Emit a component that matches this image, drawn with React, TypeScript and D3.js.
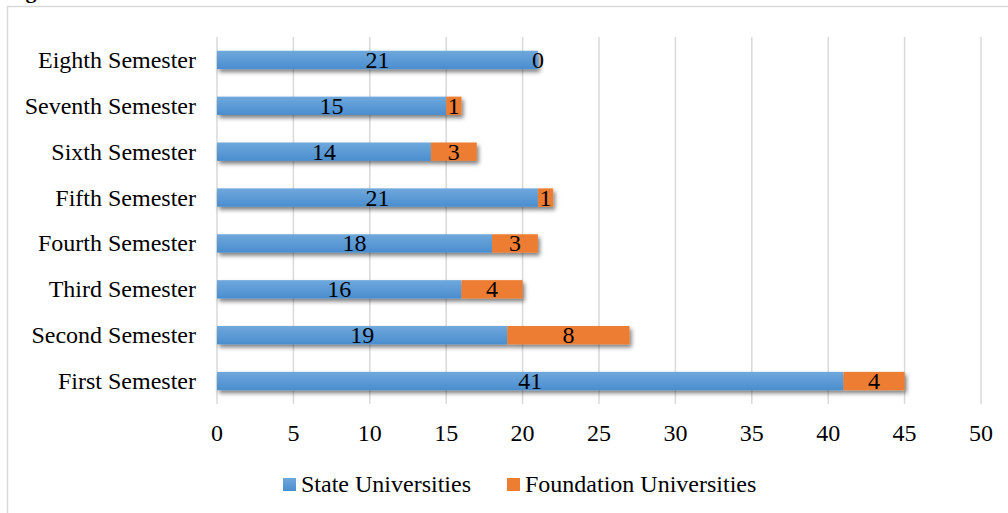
import * as React from 'react';
import { useRef, useEffect } from 'react';
import * as d3 from 'd3';

const categories = ['Eighth Semester', 'Seventh Semester', 'Sixth Semester', 'Fifth Semester', 'Fourth Semester', 'Third Semester', 'Second Semester', 'First Semester'];
const stateValues = [21, 15, 14, 21, 18, 16, 19, 41];
const foundationValues = [0, 1, 3, 1, 3, 4, 8, 4];
const xTicks = [0, 5, 10, 15, 20, 25, 30, 35, 40, 45, 50];
const seriesNames = ['State Universities', 'Foundation Universities'];

export default function App() {
  const svgRef = useRef<SVGSVGElement>(null);
  const width = 1008;
  const height = 513;
  const margin = { top: 37, right: 27, bottom: 109, left: 217 };

  useEffect(() => {
    if (!svgRef.current) return;
    const svg = d3.select(svgRef.current);
    svg.selectAll('*').remove();
    const font = '"Liberation Serif", "Times New Roman", serif';
    const fs = 24;

    const defs = svg.append('defs');
    const gBlue = defs.append('linearGradient').attr('id', 'gBlue').attr('x1', 0).attr('y1', 0).attr('x2', 0).attr('y2', 1);
    gBlue.append('stop').attr('offset', '0%').attr('stop-color', '#6fa8dc');
    gBlue.append('stop').attr('offset', '100%').attr('stop-color', '#4a8dcf');
    const shadow = defs.append('filter').attr('id', 'shadow').attr('x', '-10%').attr('y', '-50%').attr('width', '130%').attr('height', '220%');
    shadow.append('feDropShadow')
      .attr('dx', 2).attr('dy', 3).attr('stdDeviation', 2)
      .attr('flood-color', '#000').attr('flood-opacity', 0.5);

    // chart frame
    svg.append('rect')
      .attr('x', 7.5).attr('y', 6.5)
      .attr('width', width + 10).attr('height', height + 10)
      .attr('fill', '#fff').attr('stroke', '#d9d9d9').attr('stroke-width', 1.5);

    // caption cut off at top
    svg.append('text')
      .attr('x', 6).attr('y', -2)
      .attr('font-family', font).attr('font-size', 22).attr('font-weight', 'bold')
      .text('Figure');

    const x = d3.scaleLinear().domain([0, 50]).range([margin.left, width - margin.right]);
    const y = d3.scaleBand().domain(categories).range([margin.top, height - margin.bottom]).paddingInner(0.6).paddingOuter(0.3);

    // gridlines
    svg.append('g')
      .selectAll('line')
      .data(xTicks)
      .join('line')
      .attr('x1', (d) => x(d)).attr('x2', (d) => x(d))
      .attr('y1', margin.top).attr('y2', height - margin.bottom)
      .attr('stroke', '#d9d9d9').attr('stroke-width', 1.5);

    // x tick labels
    svg.append('g')
      .selectAll('text')
      .data(xTicks)
      .join('text')
      .attr('x', (d) => x(d))
      .attr('y', 441)
      .attr('text-anchor', 'middle')
      .attr('font-family', font).attr('font-size', fs)
      .text((d) => d);

    // category labels
    svg.append('g')
      .selectAll('text')
      .data(categories)
      .join('text')
      .attr('x', 196)
      .attr('y', (d) => (y(d) as number) + y.bandwidth() / 2 + 8)
      .attr('text-anchor', 'end')
      .attr('font-family', font).attr('font-size', fs)
      .text((d) => d);

    const rows = categories.map((c, i) => ({ c, s: stateValues[i], f: foundationValues[i] }));

    // bars with shadow
    const bars = svg.append('g').attr('filter', 'url(#shadow)');
    bars.selectAll('rect.state')
      .data(rows)
      .join('rect')
      .attr('class', 'state')
      .attr('x', x(0))
      .attr('y', (d) => y(d.c) as number)
      .attr('width', (d) => x(d.s) - x(0))
      .attr('height', y.bandwidth())
      .attr('fill', 'url(#gBlue)');
    bars.selectAll('rect.found')
      .data(rows)
      .join('rect')
      .attr('class', 'found')
      .attr('x', (d) => x(d.s))
      .attr('y', (d) => y(d.c) as number)
      .attr('width', (d) => x(d.s + d.f) - x(d.s))
      .attr('height', y.bandwidth())
      .attr('fill', '#ed7d31');

    // data labels
    const labels = svg.append('g').attr('font-family', font).attr('font-size', fs).attr('text-anchor', 'middle');
    labels.selectAll('text.sl')
      .data(rows)
      .join('text')
      .attr('class', 'sl')
      .attr('x', (d) => (x(0) + x(d.s)) / 2)
      .attr('y', (d) => (y(d.c) as number) + y.bandwidth() / 2 + 8)
      .text((d) => d.s);
    labels.selectAll('text.fl')
      .data(rows)
      .join('text')
      .attr('class', 'fl')
      .attr('x', (d) => (x(d.s) + x(d.s + d.f)) / 2)
      .attr('y', (d) => (y(d.c) as number) + y.bandwidth() / 2 + 8)
      .text((d) => d.f);

    // legend
    const legendItems = [
      { name: seriesNames[0], fill: 'url(#gBlue)', x: 283 },
      { name: seriesNames[1], fill: '#ed7d31', x: 507 },
    ];
    const lg = svg.append('g');
    lg.selectAll('rect')
      .data(legendItems)
      .join('rect')
      .attr('x', (d) => d.x).attr('y', 478)
      .attr('width', 13).attr('height', 13)
      .attr('fill', (d) => d.fill);
    lg.selectAll('text')
      .data(legendItems)
      .join('text')
      .attr('x', (d) => d.x + 18).attr('y', 492)
      .attr('font-family', font).attr('font-size', fs)
      .text((d) => d.name);
  }, []);

  return (
    <svg ref={svgRef} width={width} height={height}
      style={{ position: 'absolute', left: 0, top: 0, display: 'block', background: '#fff' }} />
  );
}
